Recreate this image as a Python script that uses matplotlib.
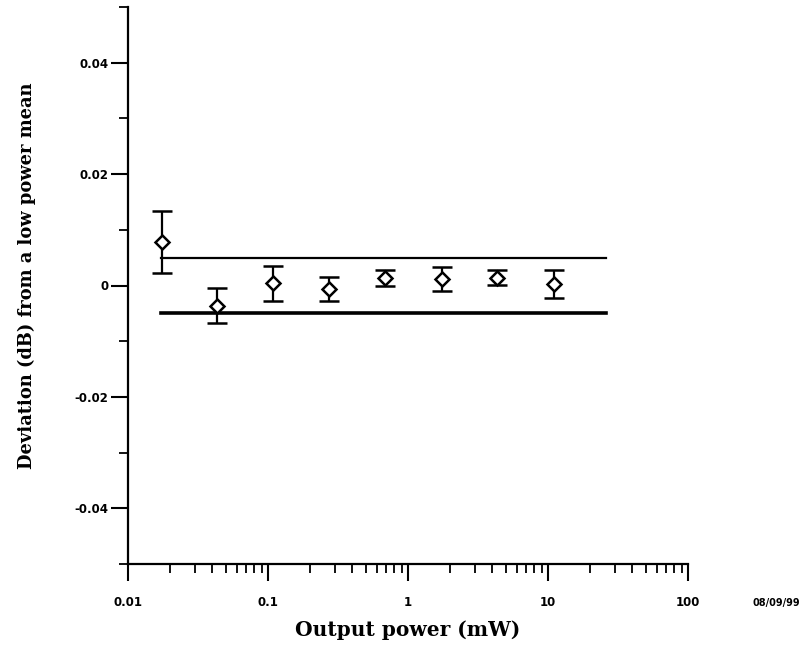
import matplotlib
matplotlib.use("Agg")
import matplotlib.pyplot as plt
from matplotlib.ticker import FixedLocator, LogLocator, NullFormatter

# Data
power_mw = [0.0174, 0.0434, 0.109, 0.273, 0.685, 1.74, 4.35, 11.0]
deviation = [0.0078, -0.0036, 0.0004, -0.0006, 0.0014, 0.0012, 0.0014, 0.0003]
err = [0.0056, 0.0031, 0.0031, 0.0022, 0.0014, 0.0022, 0.0013, 0.0025]
limit_x = [0.0172, 26.0]
upper_limit = 0.005
lower_limit = -0.005
x_ticks = [0.01, 0.1, 1, 10, 100]
x_ticklabels = ["0.01", "0.1", "1", "10", "100"]
y_ticks = [-0.04, -0.02, 0, 0.02, 0.04]
y_ticklabels = ["-0.04", "-0.02", "0", "0.02", "0.04"]
y_minor = [-0.05, -0.03, -0.01, 0.01, 0.03, 0.05]

fig = plt.figure(figsize=(8.02, 6.52), dpi=100)
ax = fig.add_axes([128/802, 88/652, 560/802, 557/652])

ax.set_xscale("log")
ax.set_xlim(0.01, 100)
ax.set_ylim(-0.05, 0.05)

ax.plot(limit_x, [upper_limit, upper_limit], color="black", lw=1.6)
ax.plot(limit_x, [lower_limit, lower_limit], color="black", lw=2.6)

ax.errorbar(power_mw, deviation, yerr=err, fmt="D", mfc="white", mec="black",
            mew=1.8, ms=7, ecolor="black", elinewidth=1.6, capsize=7, capthick=1.8,
            color="black", zorder=3)

for s in ["top", "right"]:
    ax.spines[s].set_visible(False)
for s in ["left", "bottom"]:
    ax.spines[s].set_linewidth(1.6)
    ax.spines[s].set_clip_on(False)

ax.xaxis.set_major_locator(FixedLocator(x_ticks))
ax.set_xticklabels(x_ticklabels)
ax.xaxis.set_minor_locator(LogLocator(base=10, subs=range(2, 10)))
ax.xaxis.set_minor_formatter(NullFormatter())
ax.yaxis.set_major_locator(FixedLocator(y_ticks))
ax.set_yticklabels(y_ticklabels)
ax.yaxis.set_minor_locator(FixedLocator(y_minor))

ax.tick_params(axis="both", which="major", direction="out", length=12, width=1.5,
               labelsize=8.5)
ax.tick_params(axis="both", which="minor", direction="out", length=6.5, width=1.3)
ax.tick_params(axis="x", which="major", pad=11)
ax.tick_params(axis="y", which="major", pad=2)
for lab in ax.get_xticklabels() + ax.get_yticklabels():
    lab.set_fontweight("bold")
    lab.set_family("DejaVu Sans")

ax.set_xlabel("Output power (mW)", fontsize=14.5, fontweight="bold",
              family="DejaVu Serif", labelpad=8)
ax.set_ylabel("Deviation (dB) from a low power mean", fontsize=12.9, fontweight="bold",
              family="DejaVu Serif")
ax.yaxis.set_label_coords(-(128 - 36) / 560, 0.517)

fig.text(776/802, 1 - 603/652, "08/09/99", fontsize=7, fontweight="bold",
         family="DejaVu Sans", ha="center", va="center")

fig.savefig("out.png", dpi=100)
